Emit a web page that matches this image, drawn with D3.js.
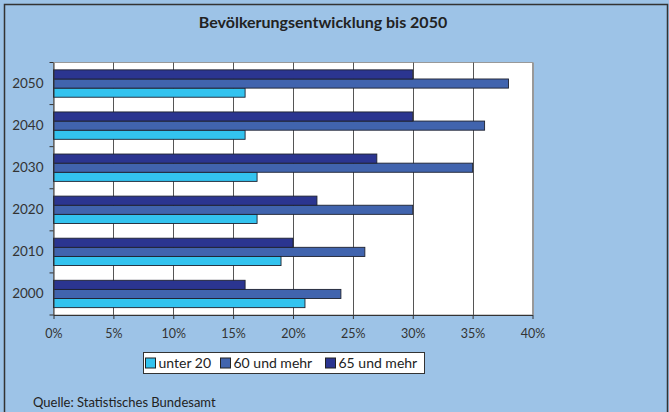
<!DOCTYPE html>
<html lang="de">
<head>
  <meta charset="UTF-8">
  <title>Bevölkerungsentwicklung bis 2050</title>
  <script src="https://d3js.org/d3.v7.min.js"></script>
  <style>
    body {
      margin: 0;
      background: #fff;
    }
    svg {
      display: block;
      font-family: Lato, "Open Sans", sans-serif;
    }
  </style>
</head>
<body>
  <svg id="chart"></svg>

  <script>
    const width = 669, height = 412;

    // data
    const years = ["2000", "2010", "2020", "2030", "2040", "2050"];
    const seriesNames = ["unter 20", "60 und mehr", "65 und mehr"];
    const unter20 = [21, 19, 17, 17, 16, 16];
    const ab60 = [24, 26, 30, 35, 36, 38];
    const ab65 = [16, 20, 22, 27, 30, 30];
    const xTicks = [0, 5, 10, 15, 20, 25, 30, 35, 40];

    const colors = ["#33c3ef", "#4164ae", "#2b3590"];
    const seriesValues = [unter20, ab60, ab65];

    const rows = years.map((y, i) => ({
      year: y,
      values: seriesNames.map((s, k) => ({ name: s, value: seriesValues[k][i], color: colors[k] }))
    }));

    const plot = { left: 53.5, right: 532.5, top: 62.5, bottom: 315 };

    const svg = d3.select("#chart")
      .attr("width", width)
      .attr("height", height);

    // background panel
    svg.append("rect")
      .attr("width", width)
      .attr("height", height)
      .attr("fill", "#9dc3e7");

    svg.append("path")
      .attr("d", `M4.5,${height + 2}V4.5H667.5V${height + 2}`)
      .attr("fill", "none")
      .attr("stroke", "#333")
      .attr("stroke-width", 1.5);

    svg.append("text")
      .attr("x", 323)
      .attr("y", 28)
      .attr("text-anchor", "middle")
      .attr("font-weight", "bold")
      .attr("font-size", 16)
      .attr("fill", "#222")
      .text("Bevölkerungsentwicklung bis 2050");

    const x = d3.scaleLinear()
      .domain([0, 40])
      .range([plot.left, plot.right]);

    // 2000 at the bottom, 2050 at the top
    const y = d3.scaleBand()
      .domain(years.slice().reverse())
      .range([plot.top, plot.bottom])
      .padding(0);

    const gap = y.bandwidth() * 0.175;
    const inner = d3.scaleBand()
      .domain(seriesNames.slice().reverse())
      .range([gap, y.bandwidth() - gap]);

    // plot area
    svg.append("rect")
      .attr("x", plot.left)
      .attr("y", plot.top)
      .attr("width", plot.right - plot.left)
      .attr("height", plot.bottom - plot.top)
      .attr("fill", "#fff")
      .attr("stroke", "#999");

    // gridlines
    svg.append("g")
      .selectAll("line")
      .data(xTicks.slice(1))
      .join("line")
      .attr("x1", d => Math.round(x(d)) + 0.5)
      .attr("x2", d => Math.round(x(d)) + 0.5)
      .attr("y1", plot.top)
      .attr("y2", plot.bottom)
      .attr("stroke", d => d === 40 ? "#999" : "#555")
      .attr("stroke-width", 1);

    // bars
    const groups = svg.append("g")
      .selectAll("g")
      .data(rows)
      .join("g")
      .attr("transform", d => `translate(0,${y(d.year)})`);

    groups.selectAll("rect")
      .data(d => d.values)
      .join("rect")
      .attr("x", x(0))
      .attr("y", d => inner(d.name))
      .attr("width", d => x(d.value) - x(0))
      .attr("height", inner.bandwidth())
      .attr("fill", d => d.color)
      .attr("stroke", "#1e2230")
      .attr("stroke-width", 0.9);

    // x axis
    const xAxis = svg.append("g")
      .attr("transform", `translate(0,${plot.bottom})`)
      .call(d3.axisBottom(x).tickValues(xTicks).tickFormat(d => d + "%").tickSize(4).tickSizeOuter(0));
    xAxis.select(".domain").attr("stroke", "#333");
    xAxis.selectAll(".tick line").attr("stroke", "#333");
    xAxis.selectAll("text")
      .attr("y", 14)
      .attr("font-size", 12.5)
      .attr("fill", "#333")
      .attr("font-family", "Lato, sans-serif");

    // y axis
    const yAxis = svg.append("g")
      .attr("transform", `translate(${plot.left},0)`)
      .call(d3.axisLeft(y).tickSize(0).tickPadding(10));
    yAxis.select(".domain").attr("stroke", "#333");
    yAxis.selectAll("text")
      .attr("font-size", 13.5)
      .attr("fill", "#333")
      .attr("font-family", "Lato, sans-serif");

    // tick marks between the bands
    svg.append("g")
      .selectAll("line")
      .data(years.slice().reverse().map(yr => y(yr)).concat([plot.bottom]))
      .join("line")
      .attr("x1", plot.left - 4)
      .attr("x2", plot.left)
      .attr("y1", d => d)
      .attr("y2", d => d)
      .attr("stroke", "#333");

    // legend
    const legend = svg.append("g").attr("transform", "translate(143.5,352.5)");
    legend.append("rect")
      .attr("width", 281)
      .attr("height", 21)
      .attr("fill", "#fff")
      .attr("stroke", "#333");

    const legendX = [2, 77, 182];
    const items = legend.selectAll("g.item")
      .data(seriesNames)
      .join("g")
      .attr("class", "item")
      .attr("transform", (d, i) => `translate(${legendX[i]},0)`);

    items.append("rect")
      .attr("x", 0)
      .attr("y", 5.5)
      .attr("width", 10)
      .attr("height", 10)
      .attr("fill", (d, i) => colors[i])
      .attr("stroke", "#222");

    items.append("text")
      .attr("x", 13)
      .attr("y", 15.5)
      .attr("font-size", 14)
      .attr("fill", "#222")
      .text(d => d);

    svg.append("text")
      .attr("x", 33)
      .attr("y", 407)
      .attr("font-size", 13)
      .attr("fill", "#222")
      .text("Quelle: Statistisches Bundesamt");
  </script>
</body>
</html>
